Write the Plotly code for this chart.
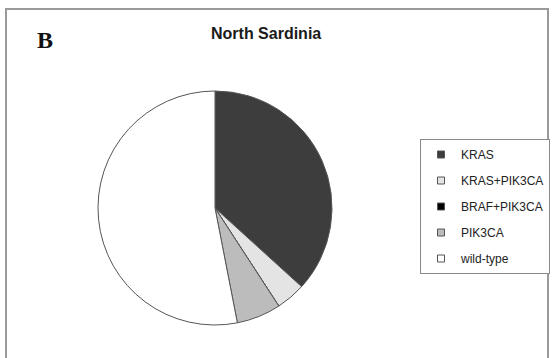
import plotly.graph_objects as go

# Mutation groups, North Sardinia cohort (patient counts)
labels = ["KRAS", "KRAS+PIK3CA", "BRAF+PIK3CA", "PIK3CA", "wild-type"]
counts = [18, 2, 0, 3, 26]
colors = ["#3d3d3d", "#e4e4e4", "#000000", "#bcbcbc", "#ffffff"]

W, H = 553, 358

fig = go.Figure()

fig.add_trace(go.Pie(
    labels=labels,
    values=counts,
    sort=False,
    direction="clockwise",
    rotation=0,
    textinfo="none",
    hoverinfo="label+value+percent",
    marker=dict(colors=colors, line=dict(color="#555555", width=1)),
    domain=dict(x=[(215 - 117) / W, (215 + 117) / W],
                y=[(H - 208 - 117) / H, (H - 208 + 117) / H]),
    showlegend=False,
))

# legend entries, one per mutation group
for lab, col in zip(labels, colors):
    fig.add_trace(go.Scatter(
        x=[None], y=[None], mode="markers", name=lab,
        legendgroup=lab,
        marker=dict(symbol="square", size=7, color=col,
                    line=dict(color="#555555", width=1)),
        hoverinfo="skip",
    ))

fig.update_layout(
    width=W, height=H,
    margin=dict(l=0, r=0, t=0, b=0),
    paper_bgcolor="white",
    plot_bgcolor="white",
    xaxis=dict(visible=False),
    yaxis=dict(visible=False),
    showlegend=True,
    legend=dict(
        x=420 / W, y=(H - 139) / H, xanchor="left", yanchor="top",
        bgcolor="white", bordercolor="#8a8a8a", borderwidth=1,
        font=dict(family="Liberation Sans, Arial, sans-serif", size=12, color="#222222"),
        tracegroupgap=7,
        itemwidth=30,
    ),
    annotations=[
        dict(text="<b>North Sardinia</b>", x=266 / W, y=(H - 33) / H,
             xref="paper", yref="paper", showarrow=False,
             xanchor="center", yanchor="middle",
             font=dict(family="Liberation Sans, Arial, sans-serif", size=16, color="#1a1a1a")),
        dict(text="<b>B</b>", x=45 / W, y=(H - 40) / H,
             xref="paper", yref="paper", showarrow=False,
             xanchor="center", yanchor="middle",
             font=dict(family="Liberation Serif, Times New Roman, serif", size=24, color="#111111")),
    ],
    shapes=[
        dict(type="rect", xref="paper", yref="paper",
             x0=6 / W, x1=548 / W, y0=-0.05, y1=(H - 9) / H,
             line=dict(color="#9a9a9a", width=2), fillcolor="rgba(0,0,0,0)",
             layer="below"),
    ],
)

fig.write_html("out.html")
